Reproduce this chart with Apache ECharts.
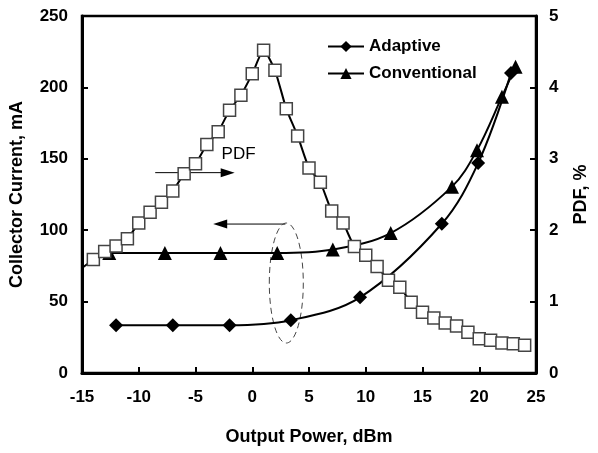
<!DOCTYPE html>
<html>
<head>
<meta charset="utf-8">
<script src="https://cdn.jsdelivr.net/npm/echarts@6/dist/echarts.min.js"></script>
<style>
  html, body { margin: 0; padding: 0; background: #fff; }
  #main { width: 598px; height: 453px; }
</style>
</head>
<body>
<div id="main"></div>
<script>
// collector current, mA (left axis)
var adaptiveX = [-12, -7, -2, 3.4, 9.5, 16.7, 19.9, 22.8];
var adaptiveY = [33.5, 33.5, 33.5, 37, 53, 104.5, 147, 210];
var conventionalX = [-12.6, -7.7, -2.8, 2.2, 7.1, 12.2, 17.6, 19.8, 22.0, 23.2];
var conventionalY = [84, 84, 84, 84, 86.5, 98, 130.5, 156, 193.5, 214.5];

// PDF, % (right axis); first point only carries the line in from the axis edge
var pdfX = [-15, -14, -13, -12, -11, -10, -9, -8, -7, -6, -5, -4, -3, -2, -1, 0, 1, 2, 3, 4,
  5, 6, 7, 8, 9, 10, 11, 12, 13, 14, 15, 16, 17, 18, 19, 20, 21, 22, 23, 24];
var pdfY = [1.47, 1.59, 1.70, 1.78, 1.88, 2.10, 2.25, 2.39, 2.55, 2.79, 2.93, 3.20, 3.38, 3.68, 3.89, 4.19, 4.52, 4.24, 3.70, 3.32,
  2.87, 2.67, 2.27, 2.10, 1.77, 1.65, 1.49, 1.30, 1.20, 0.99, 0.85, 0.77, 0.70, 0.66, 0.57, 0.48, 0.46, 0.42, 0.41, 0.39];

var font = "'Liberation Sans', Arial, sans-serif";

function pairs(xs, ys) {
  return xs.map(function (x, i) { return [x, ys[i]]; });
}

var chart = echarts.init(document.getElementById("main"));

var option = {
  animation: false,
  backgroundColor: "#fff",
  grid: {
    left: 79,
    right: 51,
    top: 16,
    bottom: 80,
    show: true,
    borderColor: "#000",
    borderWidth: 2.5
  },
  legend: {
    data: ["Adaptive", "Conventional"],
    orient: "vertical",
    left: 322,
    top: 33,
    itemWidth: 36,
    itemHeight: 14,
    itemGap: 10,
    textStyle: { fontFamily: font, fontSize: 17, fontWeight: "bold", color: "#000" }
  },
  xAxis: {
    type: "value",
    min: -15,
    max: 25,
    interval: 5,
    name: "Output Power, dBm",
    nameLocation: "middle",
    nameGap: 55,
    nameTextStyle: { fontFamily: font, fontSize: 18, fontWeight: "bold", color: "#000" },
    axisLine: { onZero: false, lineStyle: { color: "#000", width: 3 } },
    axisTick: { inside: true, length: 6, lineStyle: { color: "#000", width: 2 } },
    axisLabel: { margin: 16, fontFamily: font, fontSize: 17, fontWeight: "bold", color: "#000" },
    splitLine: { show: false }
  },
  yAxis: [
    {
      type: "value",
      min: 0,
      max: 250,
      interval: 50,
      name: "Collector Current, mA",
      nameLocation: "middle",
      nameRotate: 90,
      nameGap: 56,
      nameTextStyle: { fontFamily: font, fontSize: 18, fontWeight: "bold", color: "#000" },
      axisLine: { show: true, onZero: false, lineStyle: { color: "#000", width: 3 } },
      axisTick: { show: true, inside: true, length: 6, lineStyle: { color: "#000", width: 2 } },
      axisLabel: { margin: 14, fontFamily: font, fontSize: 17, fontWeight: "bold", color: "#000" },
      splitLine: { show: false }
    },
    {
      type: "value",
      position: "right",
      min: 0,
      max: 5,
      interval: 1,
      name: "PDF, %",
      nameLocation: "middle",
      nameRotate: 90,
      nameGap: 36,
      nameTextStyle: { fontFamily: font, fontSize: 18, fontWeight: "bold", color: "#000" },
      axisLine: { show: true, onZero: false, lineStyle: { color: "#000", width: 3 } },
      axisTick: { show: true, inside: true, length: 6, lineStyle: { color: "#000", width: 2 } },
      axisLabel: { margin: 13, fontFamily: font, fontSize: 17, fontWeight: "bold", color: "#000" },
      splitLine: { show: false }
    }
  ],
  series: [
    {
      name: "Adaptive",
      type: "line",
      yAxisIndex: 0,
      data: pairs(adaptiveX, adaptiveY),
      smooth: 0.35,
      symbol: "diamond",
      symbolSize: 14,
      lineStyle: { color: "#000", width: 2 },
      itemStyle: { color: "#000" }
    },
    {
      name: "Conventional",
      type: "line",
      yAxisIndex: 0,
      data: pairs(conventionalX, conventionalY),
      smooth: 0.35,
      symbol: "triangle",
      symbolSize: 14,
      lineStyle: { color: "#000", width: 2 },
      itemStyle: { color: "#000" }
    },
    {
      name: "PDF",
      type: "line",
      yAxisIndex: 1,
      data: pairs(pdfX, pdfY),
      smooth: 0.2,
      symbol: function (val, params) { return params.dataIndex === 0 ? "none" : "rect"; },
      symbolSize: 12,
      lineStyle: { color: "#000", width: 2 },
      itemStyle: { color: "#fff", borderColor: "#444", borderWidth: 1.5 }
    }
  ]
};

chart.setOption(option);

// annotations placed in data coordinates (left axis)
function px(x, y) {
  return chart.convertToPixel({ xAxisIndex: 0, yAxisIndex: 0 }, [x, y]);
}

function arrow(from, to) {
  var a = px(from[0], from[1]);
  var b = px(to[0], to[1]);
  var dir = b[0] > a[0] ? 1 : -1;
  return [
    { type: "line", shape: { x1: a[0], y1: a[1], x2: b[0] - dir * 12, y2: b[1] }, style: { stroke: "#000", lineWidth: 1 } },
    { type: "polygon", shape: { points: [[b[0], b[1]], [b[0] - dir * 14, b[1] - 4.5], [b[0] - dir * 14, b[1] + 4.5]] }, style: { fill: "#000" } }
  ];
}

var ec = px(3, 63);
var pdfLabel = px(-2.7, 153);
var graphics = []
  .concat(arrow([-8.55, 140.3], [-1.55, 140.3]))
  .concat(arrow([2.92, 104.3], [-3.44, 104.3]))
  .concat([
    {
      type: "ellipse",
      shape: { cx: ec[0], cy: ec[1], rx: 17, ry: 60 },
      style: { fill: "none", stroke: "#444", lineWidth: 1, lineDash: [6, 4] }
    },
    {
      type: "text",
      x: pdfLabel[0],
      y: pdfLabel[1],
      style: { text: "PDF", fontFamily: font, fontSize: 17, fill: "#000", verticalAlign: "middle" }
    }
  ]);

chart.setOption({ graphic: graphics });
</script>
</body>
</html>
